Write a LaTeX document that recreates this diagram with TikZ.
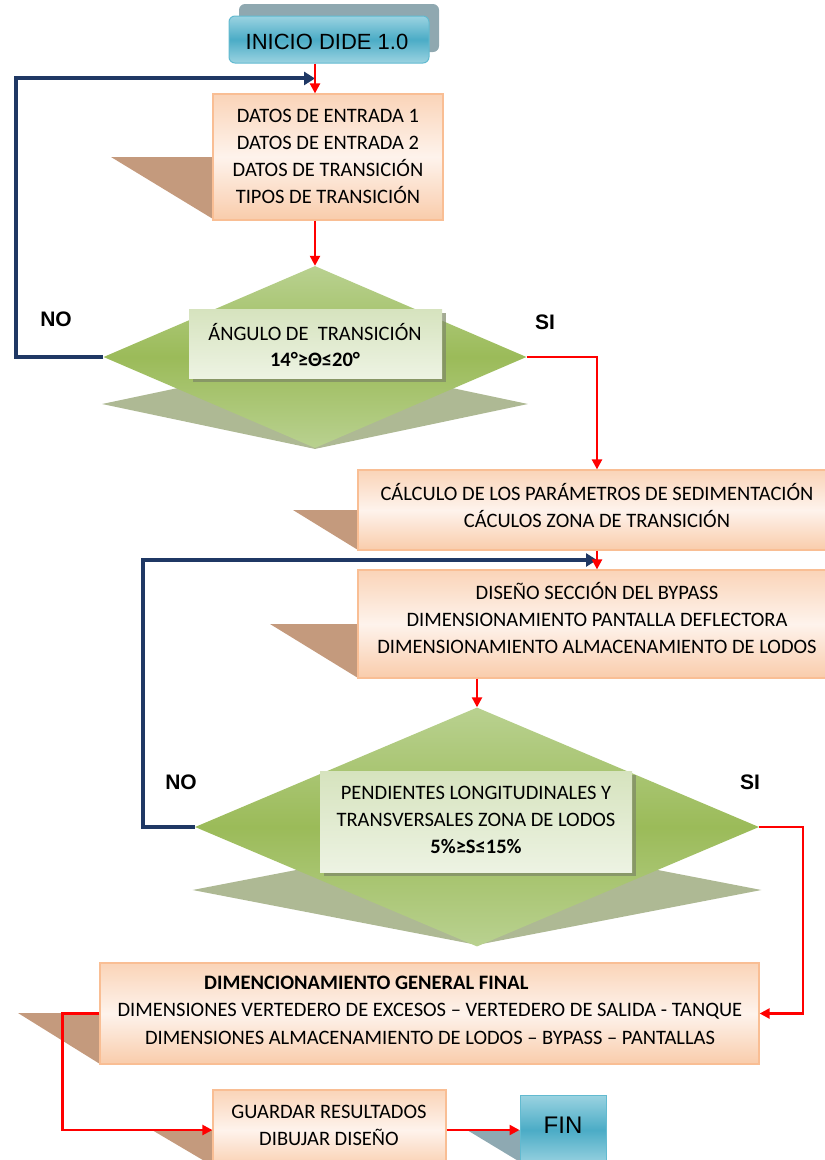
\documentclass[tikz,border=0pt]{standalone}
\usepackage{fontspec}
\setmainfont{Carlito}
\newfontfamily\arialf{Liberation Sans}
\usetikzlibrary{arrows.meta,shapes.geometric,shadows,calc}
\definecolor{navy}{HTML}{1F3864}
\definecolor{peachT}{HTML}{FAD4B8}
\definecolor{peachM}{HTML}{FEF3EC}
\definecolor{peachB}{HTML}{F9CCAB}
\definecolor{peachE}{HTML}{F9BE94}
\definecolor{wedgeC}{HTML}{C49A7D}
\definecolor{wedgeG}{HTML}{8EA9B2}
\definecolor{blueM}{HTML}{4BACC6}
\definecolor{blueL}{HTML}{9BD3E1}
\definecolor{blueE}{HTML}{62BAD0}
\definecolor{greyS}{HTML}{8FA8B0}
\definecolor{gL}{HTML}{B9D190}
\definecolor{gM}{HTML}{9BBB59}
\definecolor{gS}{HTML}{AEB994}
\definecolor{inT}{HTML}{D6E3BE}
\definecolor{inB}{HTML}{EDF3E3}
\definecolor{inS}{HTML}{7D8766}
\begin{document}
\begin{tikzpicture}[x=1pt,y=-1pt,
  pbox/.style={draw=peachE,line width=1.2pt,top color=peachT,bottom color=peachB,middle color=peachM,inner sep=0pt},
  bbox/.style={draw=blueE,line width=1pt,top color=blueL,bottom color=blueL,middle color=blueM,inner sep=0pt},
  dia/.style={diamond,inner sep=0pt,top color=gL,bottom color=gL,middle color=gM},
  diash/.style={diamond,inner sep=0pt,fill=gS},
  inbox/.style={inner sep=0pt,top color=inT,bottom color=inB,drop shadow={shadow xshift=4pt,shadow yshift=-4pt,fill=inS,opacity=0.7}},
  wedge/.style={fill=wedgeC},
  txt/.style={font=\fontsize{20.5}{27}\selectfont,align=center,inner sep=0pt,text=black},
  lbl/.style={font=\arialf\bfseries\fontsize{21}{24}\selectfont,inner sep=0pt,text=black},
  redarrow/.style={draw=red,line width=2.3pt,-{Triangle[length=10pt,width=10pt]}},
  bluearrow/.style={draw=navy,line width=4pt,-{Triangle[length=11pt,width=13pt]}}
]
\useasboundingbox (0,0) rectangle (825,1160);
\clip (0,0) rectangle (825,1160);

% wedges (shadows)
\fill[wedge] (111,157) -- (213,157) -- (213,219) -- cycle;
\fill[wedge] (293,510) -- (358,510) -- (358,550) -- cycle;
\fill[wedge] (270,624) -- (358,624) -- (358,678) -- cycle;
\fill[wedge] (18,1013) -- (100,1013) -- (100,1064) -- cycle;
\fill[wedge] (152,1130) -- (213,1130) -- (213,1166) -- cycle;
\fill[wedgeG] (467,1130) -- (520,1130) -- (520,1162) -- cycle;

% start
\node[rectangle,rounded corners=6pt,fill=greyS,minimum width=200pt,minimum height=48pt] (starts) at (339,28) {};
\node[bbox,rounded corners=6pt,minimum width=200pt,minimum height=47pt] (start) at (329,39.5) {};
\node[font=\arialf\fontsize{22}{26}\selectfont,inner sep=0pt] (tstart) at (327,42) {INICIO DIDE 1.0};

% box 1
\node[pbox,minimum width=230pt,minimum height=126pt] (box1) at (328,157) {};
\node[txt] (t1) at (328,156.5) {DATOS DE ENTRADA 1\\DATOS DE ENTRADA 2\\DATOS DE TRANSICIÓN\\TIPOS DE TRANSICIÓN};

% diamond 1
\node[diash,minimum width=426pt,minimum height=90pt] (d1s) at (315,404) {};
\node[dia,minimum width=423pt,minimum height=182pt] (d1) at (315,357) {};
\node[inbox,minimum width=253pt,minimum height=69pt] (d1in) at (315.5,343.5) {};
\node[txt,font=\fontsize{20.5}{26}\selectfont] (td1) at (315,345) {ÁNGULO DE~~TRANSICIÓN\\\textbf{14°≥Θ≤20°}};
\node[lbl] (no1) at (56,319) {NO};
\node[lbl] (si1) at (545,322) {SI};

% box 2, box 3
\node[pbox,minimum width=478pt,minimum height=80pt] (box2) at (597,510) {};
\node[txt] (t2) at (597,505.5) {CÁLCULO DE LOS PARÁMETROS DE SEDIMENTACIÓN\\CÁCULOS ZONA DE TRANSICIÓN};
\node[pbox,minimum width=478pt,minimum height=108pt] (box3) at (597,624) {};
\node[txt] (t3) at (597,618.5) {DISEÑO SECCIÓN DEL BYPASS\\DIMENSIONAMIENTO PANTALLA DEFLECTORA\\DIMENSIONAMIENTO ALMACENAMIENTO DE LODOS};

% diamond 2
\node[diash,minimum width=569pt,minimum height=110pt] (d2s) at (477,890) {};
\node[dia,minimum width=564pt,minimum height=239pt] (d2) at (477,827) {};
\node[inbox,minimum width=312pt,minimum height=101pt] (d2in) at (476,821.5) {};
\node[txt] (td2) at (476,820) {PENDIENTES LONGITUDINALES Y\\TRANSVERSALES ZONA DE LODOS\\\textbf{5\%≥S≤15\%}};
\node[lbl] (no2) at (181,782) {NO};
\node[lbl] (si2) at (750,782) {SI};

% box 4
\node[pbox,minimum width=659pt,minimum height=101pt] (box4) at (429.5,1013.5) {};
\node[txt,anchor=west,font=\bfseries\fontsize{20.5}{27}\selectfont] (t4a) at (204,983) {DIMENCIONAMIENTO GENERAL FINAL};
\node[txt] (t4b) at (430,1011) {DIMENSIONES VERTEDERO DE EXCESOS – VERTEDERO DE SALIDA - TANQUE};
\node[txt] (t4c) at (430,1038) {DIMENSIONES ALMACENAMIENTO DE LODOS – BYPASS – PANTALLAS};

% box 5 and FIN
\node[pbox,minimum width=233pt,minimum height=80pt] (box5) at (329.5,1130) {};
\node[txt] (t5) at (329,1125) {GUARDAR RESULTADOS\\DIBUJAR DISEÑO};
\node[bbox,minimum width=86pt,minimum height=70pt] (fin) at (563,1130) {};
\node[font=\arialf\fontsize{24}{28}\selectfont,inner sep=0pt] (tfin) at (563,1125) {FIN};

% connectors
\coordinate (l1) at (16,0);
\coordinate (l2) at (143,0);
\coordinate (j1) at ($(start.south -| d1.north)!0.5!(box1.north -| d1.north)$);
\coordinate (j2) at ($(box2.south)!0.5!(box3.north)$);
\draw[bluearrow] (d1.west) -- (d1.west -| l1) |- (j1);
\draw[bluearrow] (d2.west) -- (d2.west -| l2) |- (j2);
\draw[redarrow] (start.south -| d1.north) -- (box1.north -| d1.north);
\draw[redarrow] (box1.south -| d1.north) -- (d1.north);
\draw[redarrow] (d1.east) -- (d1.east -| box2.north) -- (box2.north);
\draw[redarrow] (box2.south) -- (box3.north);
\draw[redarrow] (box3.south -| d2.north) -- (d2.north);
\draw[redarrow] (d2.east) -- ++(44,0) |- (box4.east);
\draw[redarrow] (box4.west) -- ++(-37,0) |- (box5.west);
\draw[redarrow] (box5.east) -- (fin.west);
\end{tikzpicture}
\end{document}
